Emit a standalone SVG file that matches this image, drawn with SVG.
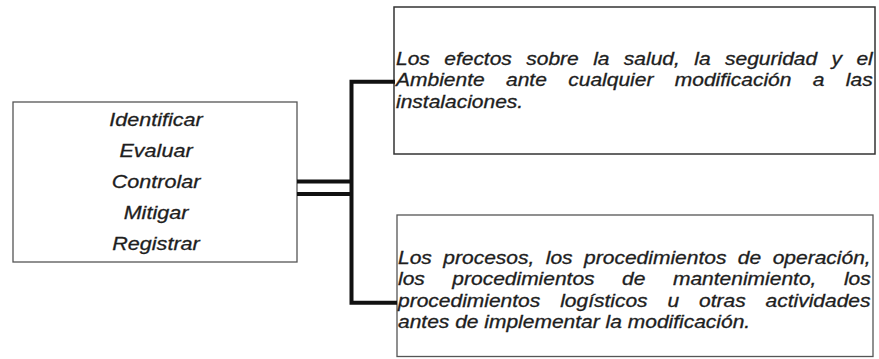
<svg xmlns="http://www.w3.org/2000/svg" width="879" height="359" viewBox="0 0 879 359">
<style>
.box{fill:#fff;stroke:#555;stroke-width:1.3}
.boxd{fill:#fff;stroke:#333;stroke-width:1.5}
.t{font-family:"Liberation Sans",Arial,sans-serif;font-style:italic;fill:#1e1e1e;stroke:#1e1e1e;stroke-width:0.3}
.conn{fill:none;stroke:#111;stroke-width:4;stroke-linejoin:miter}
</style>
<rect width="879" height="359" fill="#fff"/>
<g id="node-actions">
<rect class="box" x="13" y="102" width="284" height="160"/>
<g transform="scale(1.16,1)">
<text class="t" font-size="18.6" text-anchor="middle" x="134.5" y="126.5">Identificar</text>
<text class="t" font-size="18.6" text-anchor="middle" x="134.5" y="157.3">Evaluar</text>
<text class="t" font-size="18.6" text-anchor="middle" x="134.5" y="188">Controlar</text>
<text class="t" font-size="18.6" text-anchor="middle" x="134.5" y="218.8">Mitigar</text>
<text class="t" font-size="18.6" text-anchor="middle" x="134.5" y="249.6">Registrar</text>
</g>
</g>
<g id="node-efectos">
<rect class="boxd" x="394" y="7" width="481" height="147"/>
<g transform="scale(1.2,1)">
<text class="t" font-size="17.5" x="330" y="65" word-spacing="7.14">Los efectos sobre la salud, la seguridad y el</text>
<text class="t" font-size="17.5" x="330" y="86.3" word-spacing="12.97">Ambiente ante cualquier modificación a las</text>
<text class="t" font-size="17.5" x="330" y="107.6">instalaciones.</text>
</g>
</g>
<g id="node-procesos">
<rect class="box" x="397" y="215" width="476" height="141.5"/>
<g transform="scale(1.2,1)">
<text class="t" font-size="17.5" x="331.67" y="264" word-spacing="4.72">Los procesos, los procedimientos de operación,</text>
<text class="t" font-size="17.5" x="331.67" y="285.3" word-spacing="18.06">los procedimientos de mantenimiento, los</text>
<text class="t" font-size="17.5" x="331.67" y="306.6" word-spacing="11.7">procedimientos logísticos u otras actividades</text>
<text class="t" font-size="17.5" x="331.67" y="327.9">antes de implementar la modificación.</text>
</g>
</g>
<g id="connectors">
<path class="conn" d="M297 181.5H351.5M297 194H351.5M395 81.7H351.5V302.7H397"/>
</g>
</svg>
